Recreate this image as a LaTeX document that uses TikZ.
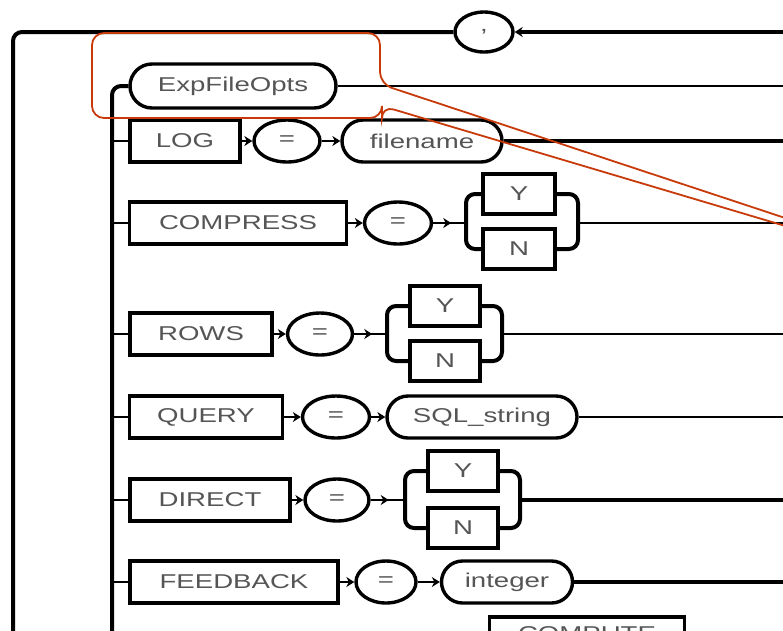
\documentclass[tikz,border=0pt]{standalone}
\usepackage{fontspec}
\usepackage{graphicx}
\setmainfont{Liberation Sans}
\usetikzlibrary{shapes.misc,shapes.geometric,arrows.meta}
\definecolor{txt}{HTML}{555555}
\definecolor{callout}{HTML}{C83A0A}
\newcommand{\sx}[1]{\scalebox{1.38}[1]{#1}}
\begin{document}
\begin{tikzpicture}[x=1pt,y=-1pt,
  every node/.style={font=\fontsize{20}{20}\selectfont, text=txt, inner sep=0pt},
  kw/.style={draw, rectangle, line width=3.4pt, minimum height=42pt},
  yn/.style={draw, rectangle, line width=3.4pt, minimum height=40pt, minimum width=70pt},
  term/.style={draw, rounded rectangle, line width=3.4pt, minimum height=42pt},
  op/.style={draw, ellipse, line width=3.4pt, minimum height=42pt},
  heavy/.style={line width=4pt},
  light/.style={line width=2pt},
  tipr/.style={-{Stealth[length=8pt,width=10pt]}},
  tipl/.style={{Stealth[length=8pt,width=10pt]}-},
  rc/.style={rounded corners=9pt}]
\useasboundingbox (0,0) rectangle (783,630);
\clip (0,0) rectangle (783,630);
\fill[white] (0,0) rectangle (783,630);

\coordinate (R) at (800,0);
\coordinate (bar) at (112,645);
\coordinate (outer) at (13,645);

% loop separator
\node[op, minimum width=58pt, minimum height=40pt] (comma) at (484,32) {\sx{,}};
\draw[heavy, rc] (outer) |- (comma.west);
\draw[heavy, tipl] (comma.east) -- (comma.east -| R);

% ExpFileOpts
\node[term, minimum width=206pt, minimum height=44pt] (efo) at (233,86) {\sx{ExpFileOpts}};
\draw[heavy, rc] (bar) |- (efo.west);
\draw[light] (efo.east) -- (efo.east -| R);

% LOG
\node[kw, minimum width=110pt] (log) at (185,141) {\sx{LOG}};
\node[op, minimum width=66pt] (logeq) at (287,141) {\sx{=}};
\node[term, minimum width=160pt] (fname) at (422,141) {\sx{filename}};
\draw[light] (log.west -| bar) -- (log.west);
\draw[light, tipr] (log.east) -- (logeq.west);
\draw[light, tipr] (logeq.east) -- (fname.west);
\draw[heavy] (fname.east) -- (fname.east -| R);

% COMPRESS
\node[kw, minimum width=217pt] (comp) at (238,223) {\sx{COMPRESS}};
\node[op, minimum width=67pt] (compeq) at (398,223) {\sx{=}};
\node[yn, minimum width=72pt] (compy) at (519,194) {\sx{Y}};
\node[yn, minimum width=72pt] (compn) at (519,249) {\sx{N}};
\coordinate (compl) at (466,223);
\coordinate (compr) at (578,223);
\draw[light] (comp.west -| bar) -- (comp.west);
\draw[light, tipr] (comp.east) -- (compeq.west);
\draw[light] (compeq.east) -- (compl);
\draw[light, tipr] (compeq.east) -- ++(18,0);
\draw[heavy, rc] (compy.west) -| (compl) |- (compn.west);
\draw[heavy, rc] (compy.east) -| (compr) |- (compn.east);
\draw[light] (compr) -- (compr -| R);

% ROWS
\node[kw, minimum width=142pt] (rows) at (201,334) {\sx{ROWS}};
\node[op, minimum width=65pt] (rowseq) at (320,334) {\sx{=}};
\node[yn] (rowsy) at (445,306) {\sx{Y}};
\node[yn] (rowsn) at (445,361) {\sx{N}};
\coordinate (rowsl) at (387,334);
\coordinate (rowsr) at (502,334);
\draw[light] (rows.west -| bar) -- (rows.west);
\draw[light, tipr] (rows.east) -- (rowseq.west);
\draw[light] (rowseq.east) -- (rowsl);
\draw[light, tipr] (rowseq.east) -- ++(18,0);
\draw[heavy, rc] (rowsy.west) -| (rowsl) |- (rowsn.west);
\draw[heavy, rc] (rowsy.east) -| (rowsr) |- (rowsn.east);
\draw[light] (rowsr) -- (rowsr -| R);

% QUERY
\node[kw, minimum width=153pt] (query) at (206,417) {\sx{QUERY}};
\node[op, minimum width=67pt] (queryeq) at (336,417) {\sx{=}};
\node[term, minimum width=190pt] (sql) at (482,417) {\sx{SQL\_string}};
\draw[light] (query.west -| bar) -- (query.west);
\draw[light, tipr] (query.east) -- (queryeq.west);
\draw[light, tipr] (queryeq.east) -- (sql.west);
\draw[light] (sql.east) -- (sql.east -| R);

% DIRECT
\node[kw, minimum width=160pt] (direct) at (210,500) {\sx{DIRECT}};
\node[op, minimum width=64pt] (directeq) at (337,500) {\sx{=}};
\node[yn] (directy) at (463,471) {\sx{Y}};
\node[yn] (directn) at (463,528) {\sx{N}};
\coordinate (directl) at (405,500);
\coordinate (directr) at (520,500);
\draw[light] (direct.west -| bar) -- (direct.west);
\draw[light, tipr] (direct.east) -- (directeq.west);
\draw[light] (directeq.east) -- (directl);
\draw[light, tipr] (directeq.east) -- ++(18,0);
\draw[heavy, rc] (directy.west) -| (directl) |- (directn.west);
\draw[heavy, rc] (directy.east) -| (directr) |- (directn.east);
\draw[heavy] (directr) -- (directr -| R);

% FEEDBACK
\node[kw, minimum width=208pt] (feed) at (234,582) {\sx{FEEDBACK}};
\node[op, minimum width=60pt] (feedeq) at (386,582) {\sx{=}};
\node[term, minimum width=131pt] (int) at (507,582) {\sx{integer}};
\draw[light] (feed.west -| bar) -- (feed.west);
\draw[light, tipr] (feed.east) -- (feedeq.west);
\draw[light, tipr] (feedeq.east) -- (int.west);
\draw[heavy] (int.east) -- (int.east -| R);

% COMPUTE (cut off at the lower edge, as in the reference)
\node[kw, minimum width=195pt, minimum height=34pt] (compute) at (587,634) {\sx{COMPUTE}};

% red callout
\draw[callout, line width=1.8pt, rounded corners=12pt]
  (1024,297) -- (380,84) -- (380,33) -- (92,33) -- (92,118) -- (382,118) -- (382,106) -- (1024,297);
\end{tikzpicture}
\end{document}
